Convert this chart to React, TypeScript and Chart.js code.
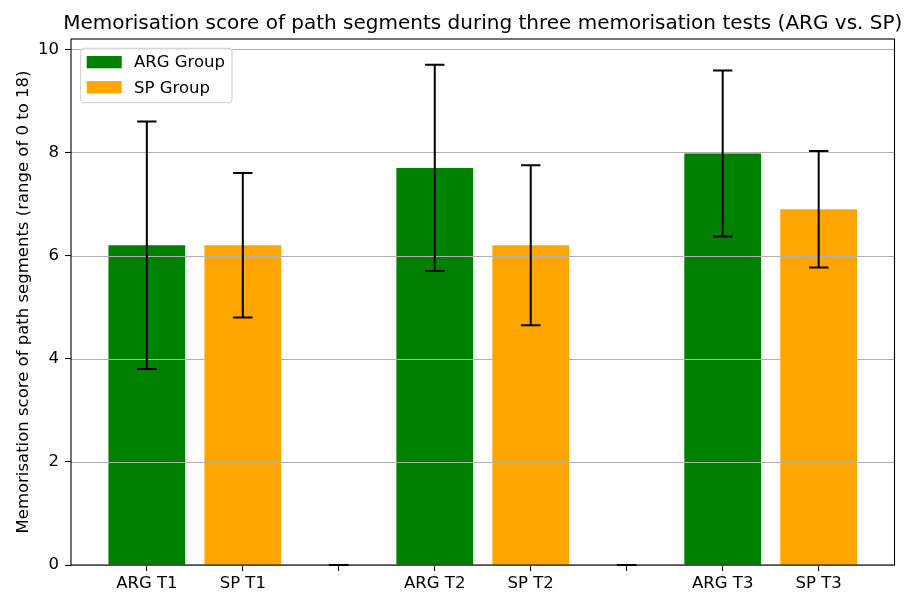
import React, { useEffect, useRef } from "react";
import { Chart, registerables } from "chart.js";

Chart.register(...registerables);

const chartTitle =
  "Memorisation score of path segments during three memorisation tests (ARG vs. SP)";
const yAxisTitle = "Memorisation score of path segments (range of 0 to 18)";
const categoryLabels = ["ARG T1", "SP T1", "", "ARG T2", "SP T2", "", "ARG T3", "SP T3"];
const argPositions = [0, 3, 6];
const spPositions = [1, 4, 7];
const spacerPositions = [2, 5];
const argValues = [6.2, 7.7, 7.98];
const argErrors = [2.4, 2.0, 1.61];
const spValues = [6.2, 6.2, 6.9];
const spErrors = [1.4, 1.55, 1.13];
const spacerValues = [0, 0];
const spacerErrors = [0, 0];
const yTickValues = [0, 2, 4, 6, 8, 10];
const seriesNames = ["ARG Group", "SP Group"];
const seriesColors = ["#008000", "#FFA500"];

const FONT = "'DejaVu Sans', sans-serif";

const toPoints = (pos: number[], vals: number[]) =>
  pos.map((p, i) => ({ x: p, y: vals[i] }));

const overlayPlugin = {
  id: "overlay",
  afterDatasetsDraw(chart: any) {
    const { ctx, chartArea: ca } = chart;
    const xs = chart.scales.x;
    const ys = chart.scales.y;
    ctx.save();
    // grid lines drawn above bars (matplotlib style)
    ctx.strokeStyle = "#b0b0b0";
    ctx.lineWidth = 1.1;
    yTickValues.forEach((v) => {
      const y = Math.round(ys.getPixelForValue(v)) + 0.5;
      ctx.beginPath();
      ctx.moveTo(ca.left, y);
      ctx.lineTo(ca.right, y);
      ctx.stroke();
    });
    // error bars
    ctx.strokeStyle = "#000";
    ctx.lineWidth = 2;
    const cap = 9.7;
    chart.data.datasets.forEach((ds: any) => {
      ds.data.forEach((pt: any, i: number) => {
        const err = ds.errors[i];
        const x = xs.getPixelForValue(pt.x);
        const yT = ys.getPixelForValue(pt.y + err);
        const yB = ys.getPixelForValue(pt.y - err);
        ctx.beginPath();
        ctx.moveTo(x, yT);
        ctx.lineTo(x, yB);
        ctx.moveTo(x - cap, yT);
        ctx.lineTo(x + cap, yT);
        ctx.moveTo(x - cap, yB);
        ctx.lineTo(x + cap, yB);
        ctx.stroke();
      });
    });
    ctx.restore();
  },
  afterDraw(chart: any) {
    const { ctx, chartArea: ca } = chart;
    ctx.save();
    // frame
    ctx.strokeStyle = "#000";
    ctx.lineWidth = 1.1;
    ctx.strokeRect(ca.left, ca.top, ca.right - ca.left, ca.bottom - ca.top);
    // title
    ctx.fillStyle = "#000";
    ctx.font = `20px ${FONT}`;
    ctx.textAlign = "center";
    ctx.textBaseline = "alphabetic";
    ctx.fillText(chartTitle, (ca.left + ca.right) / 2, 29.3);
    // legend
    const lx = ca.left + 9.7;
    const ly = ca.top + 9.3;
    const lw = 151.3;
    const lh = 54.4;
    ctx.beginPath();
    ctx.roundRect(lx, ly, lw, lh, 3);
    ctx.fillStyle = "rgba(255,255,255,0.8)";
    ctx.fill();
    ctx.strokeStyle = "#cccccc";
    ctx.lineWidth = 1;
    ctx.stroke();
    ctx.font = `16.5px ${FONT}`;
    ctx.textAlign = "left";
    seriesNames.forEach((name, i) => {
      ctx.fillStyle = seriesColors[i];
      ctx.fillRect(lx + 6, ly + 7.7 + i * 25.1, 35, 12.3);
      ctx.fillStyle = "#000";
      ctx.fillText(name, lx + 53.3, ly + 19 + i * 25.2);
    });
    ctx.restore();
  },
};

export default function App() {
  const ref = useRef<HTMLCanvasElement | null>(null);
  useEffect(() => {
    if (!ref.current) return;
    const chart = new Chart(ref.current, {
      type: "bar",
      data: {
        datasets: [
          {
            label: seriesNames[0],
            data: toPoints(argPositions, argValues),
            errors: argErrors,
            backgroundColor: seriesColors[0],
          } as any,
          {
            label: seriesNames[1],
            data: toPoints(spPositions, spValues),
            errors: spErrors,
            backgroundColor: seriesColors[1],
          } as any,
          {
            label: "",
            data: toPoints(spacerPositions, spacerValues),
            errors: spacerErrors,
            backgroundColor: "rgba(0,0,0,0)",
          } as any,
        ],
      },
      options: {
        responsive: false,
        animation: false,
        events: [],
        datasets: {
          bar: {
            grouped: false,
            barPercentage: 1,
            categoryPercentage: 0.8,
            borderWidth: 0,
          },
        },
        layout: { padding: { top: 39, right: 15.5, left: 0, bottom: 0 } },
        plugins: {
          legend: { display: false },
          title: { display: false },
          tooltip: { enabled: false },
        },
        scales: {
          x: {
            type: "linear",
            offset: false,
            min: -0.79,
            max: 7.79,
            afterBuildTicks: (scale: any) => {
              scale.ticks = categoryLabels.map((_, i) => ({ value: i }));
            },
            afterFit: (scale: any) => {
              scale.height = 29;
            },
            grid: {
              offset: false,
              drawOnChartArea: false,
              drawTicks: true,
              tickLength: 6,
              tickColor: "#000",
              tickWidth: 1.1,
            },
            border: { display: false },
            ticks: {
              autoSkip: false,
              maxRotation: 0,
              padding: 3,
              color: "#000",
              font: { family: FONT, size: 16.5 },
              callback: (v: any) => categoryLabels[v] ?? "",
            },
          },
          y: {
            type: "linear",
            min: 0,
            max: 10.2,
            afterBuildTicks: (scale: any) => {
              scale.ticks = yTickValues.map((v) => ({ value: v }));
            },
            afterFit: (scale: any) => {
              scale.width = 71;
            },
            grid: {
              drawOnChartArea: false,
              drawTicks: true,
              tickLength: 6,
              tickColor: "#000",
              tickWidth: 1.1,
            },
            border: { display: false },
            ticks: {
              padding: 6,
              color: "#000",
              font: { family: FONT, size: 16.5 },
              callback: (v: any) => String(v),
            },
            title: {
              display: true,
              text: yAxisTitle,
              color: "#000",
              font: { family: FONT, size: 16.5 },
              padding: { top: 13.5, bottom: 0 },
            },
          },
        },
      } as any,
      plugins: [overlayPlugin],
    });
    return () => chart.destroy();
  }, []);
  return (
    <div style={{ position: "fixed", left: 0, top: 0, width: 910, height: 594, background: "#fff" }}>
      <canvas ref={ref} width={910} height={594} style={{ display: "block" }} />
    </div>
  );
}
